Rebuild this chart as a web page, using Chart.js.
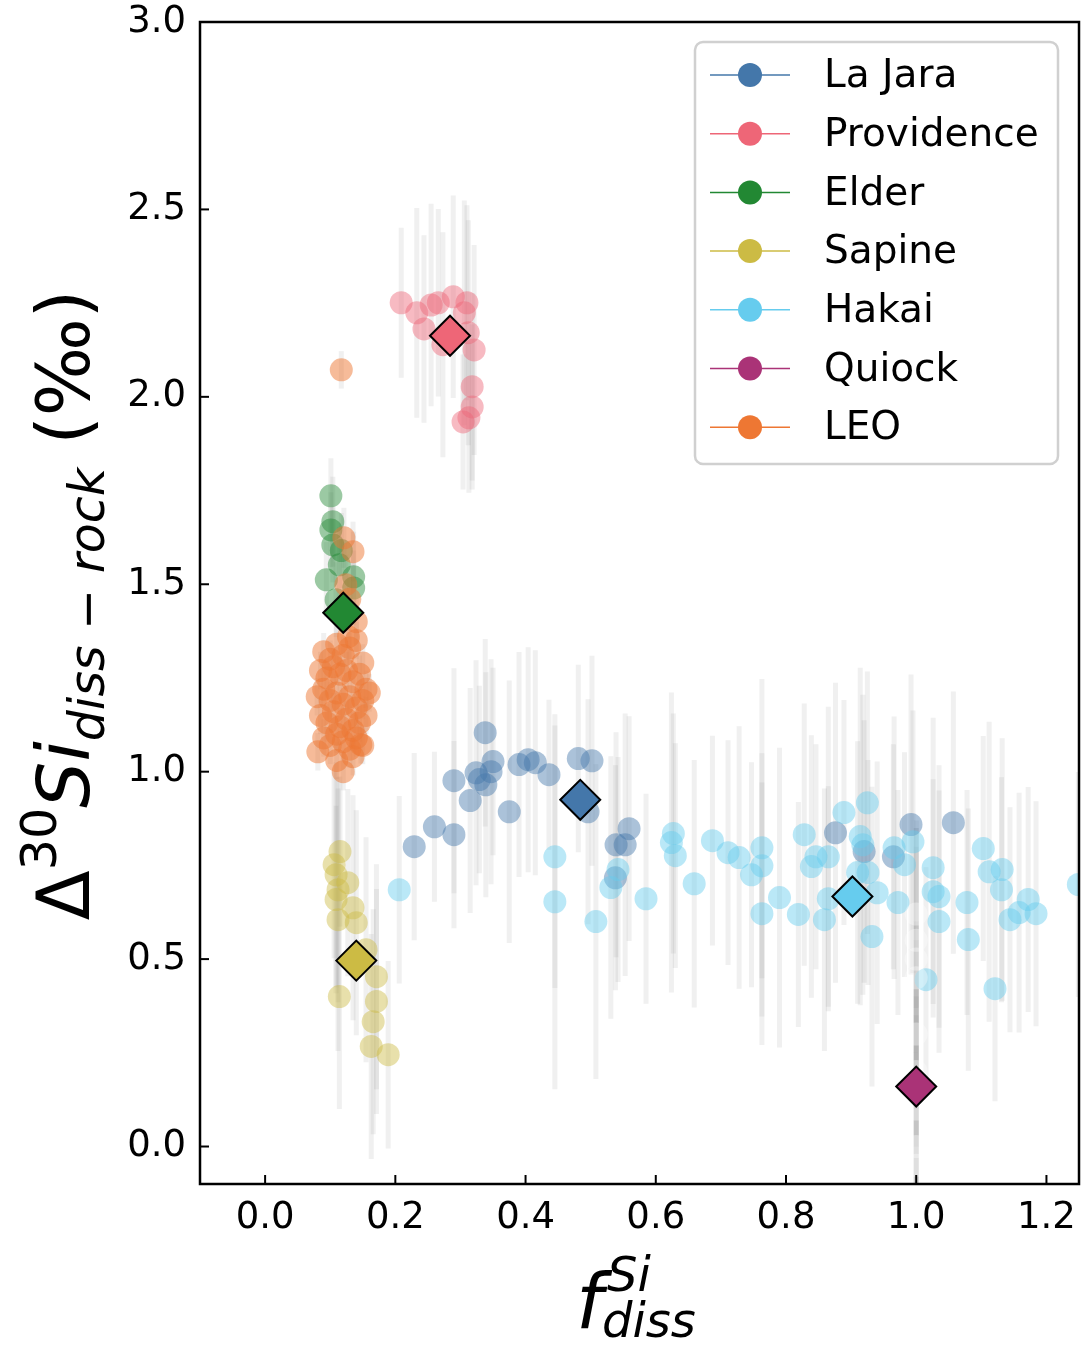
<!DOCTYPE html>
<html>
<head>
<meta charset="utf-8">
<script src="https://cdn.jsdelivr.net/npm/chart.js"></script>
<style>
  body { margin: 0; background: #fff; }
  canvas { display: block; }
</style>
</head>
<body>
<canvas id="chart" width="1081" height="1345"></canvas>
<script>
// each row: [f_diss, Δ30Si diss-rock, error]
const laJara = [
  [0.229,0.800,0.25],[0.260,0.853,0.20],[0.290,0.832,0.25],[0.290,0.976,0.30],[0.315,0.923,0.30],
  [0.324,0.997,0.30],[0.329,0.979,0.25],[0.339,0.965,0.30],[0.347,1.000,0.30],[0.350,1.027,0.25],
  [0.338,1.104,0.25],[0.375,0.893,0.35],[0.390,1.019,0.30],[0.404,1.032,0.30],[0.415,1.024,0.30],
  [0.436,0.992,0.20],[0.481,1.035,0.25],[0.502,1.029,0.28],[0.496,0.893,0.30],[0.539,0.805,0.30],
  [0.553,0.805,0.35],[0.559,0.848,0.30],[0.538,0.717,0.30],[0.876,0.837,0.40],[0.920,0.787,0.35],
  [0.965,0.773,0.30],[0.992,0.859,0.40],[1.057,0.864,0.35]
];
const providence = [
  [0.209,2.251,0.20],[0.233,2.224,0.28],[0.255,2.245,0.27],[0.266,2.251,0.25],[0.289,2.267,0.27],
  [0.310,2.251,0.26],[0.306,2.224,0.30],[0.244,2.181,0.25],[0.273,2.139,0.30],[0.312,2.171,0.30],
  [0.321,2.125,0.28],[0.318,2.027,0.25],[0.318,1.973,0.22],[0.304,1.933,0.18],[0.313,1.944,0.20]
];
const elder = [
  [0.101,1.736,0.10],[0.104,1.667,0.12],[0.101,1.645,0.10],[0.104,1.605,0.10],[0.094,1.512,0.10],
  [0.114,1.552,0.10],[0.136,1.520,0.12],[0.136,1.490,0.10],[0.109,1.459,0.10],[0.117,1.590,0.10]
];
const sapine = [
  [0.115,0.787,0.20],[0.106,0.752,0.25],[0.109,0.725,0.30],[0.127,0.704,0.25],[0.112,0.685,0.30],
  [0.109,0.659,0.25],[0.135,0.637,0.30],[0.112,0.605,0.35],[0.140,0.597,0.30],[0.155,0.525,0.30],
  [0.171,0.453,0.30],[0.114,0.400,0.30],[0.171,0.387,0.30],[0.166,0.333,0.30],[0.163,0.267,0.30],
  [0.189,0.245,0.25]
];
const hakai = [
  [0.206,0.685,0.25],[0.445,0.773,0.35],[0.445,0.653,0.50],[0.508,0.600,0.42],[0.542,0.739,0.30],
  [0.531,0.691,0.35],[0.585,0.661,0.28],[0.627,0.835,0.32],[0.624,0.811,0.40],[0.630,0.776,0.30],
  [0.659,0.701,0.33],[0.687,0.816,0.28],[0.711,0.784,0.30],[0.728,0.771,0.35],[0.747,0.725,0.30],
  [0.763,0.797,0.45],[0.763,0.749,0.30],[0.763,0.621,0.35],[0.790,0.664,0.40],[0.819,0.619,0.30],
  [0.828,0.832,0.35],[0.846,0.773,0.30],[0.839,0.747,0.35],[0.865,0.773,0.40],[0.889,0.891,0.30],
  [0.925,0.917,0.35],[0.914,0.827,0.45],[0.918,0.805,0.40],[0.910,0.731,0.35],[0.926,0.731,0.30],
  [0.940,0.677,0.35],[0.865,0.661,0.30],[0.859,0.605,0.35],[0.932,0.560,0.40],[0.966,0.797,0.35],
  [0.982,0.752,0.30],[0.995,0.813,0.35],[0.972,0.651,0.30],[1.035,0.667,0.35],[1.026,0.744,0.40],
  [1.026,0.680,0.30],[1.035,0.600,0.35],[1.078,0.651,0.30],[1.080,0.552,0.35],[1.103,0.795,0.30],
  [1.112,0.733,0.40],[1.132,0.739,0.35],[1.131,0.685,0.30],[1.144,0.605,0.30],[1.158,0.624,0.32],
  [1.172,0.659,0.30],[1.184,0.621,0.30],[1.121,0.421,0.30],[1.249,0.699,0.30],[1.015,0.445,0.30]
];
const quiock = [
  [1.0,0.62,0.25],[1.0,0.55,0.30],[1.0,0.50,0.35],[1.0,0.45,0.35],[1.0,0.30,0.30],[1.0,0.20,0.35],
  [1.0,0.10,0.30],[1.0,0.00,0.35],[1.0,-0.05,0.30]
];
const leo = [
  [0.117,2.072,0.05],[0.121,1.624,0.08],[0.135,1.587,0.08],[0.124,1.499,0.08],[0.130,1.460,0.06],
  [0.140,1.400,0.06],[0.128,1.360,0.06],
  [0.090,1.320,0.05],[0.100,1.300,0.05],[0.110,1.340,0.05],[0.120,1.310,0.05],[0.130,1.330,0.05],
  [0.140,1.350,0.05],[0.150,1.290,0.05],
  [0.085,1.270,0.05],[0.095,1.250,0.05],[0.105,1.280,0.05],[0.115,1.260,0.05],[0.125,1.270,0.05],
  [0.135,1.240,0.05],[0.145,1.260,0.05],[0.155,1.220,0.05],
  [0.080,1.200,0.05],[0.090,1.220,0.05],[0.100,1.190,0.05],[0.110,1.210,0.05],[0.120,1.180,0.05],
  [0.130,1.200,0.05],[0.140,1.170,0.05],[0.150,1.190,0.05],[0.160,1.210,0.05],
  [0.085,1.150,0.05],[0.095,1.130,0.05],[0.105,1.160,0.05],[0.115,1.120,0.05],[0.125,1.140,0.05],
  [0.135,1.110,0.05],[0.145,1.130,0.05],[0.155,1.150,0.05],
  [0.090,1.090,0.05],[0.100,1.070,0.05],[0.110,1.100,0.05],[0.120,1.080,0.05],[0.130,1.060,0.05],
  [0.140,1.090,0.05],[0.150,1.070,0.05],
  [0.081,1.053,0.05],[0.120,1.000,0.05],[0.147,1.072,0.05],[0.110,1.030,0.05],[0.135,1.040,0.05]
];

const seriesNames = ['La Jara', 'Providence', 'Elder', 'Sapine', 'Hakai', 'Quiock', 'LEO'];
const seriesData = [laJara, providence, elder, sapine, hakai, quiock, leo];
const seriesColors = ['#4477AA', '#EE6677', '#228833', '#CCBB44', '#66CCEE', '#AA3377', '#EE7733'];

// site means (diamonds), in series order La Jara .. Quiock
const meanX = [0.484, 0.284, 0.120, 0.140, 0.902, 1.000];
const meanY = [0.925, 2.163, 1.424, 0.496, 0.667, 0.160];

const xTicks = [0.0, 0.2, 0.4, 0.6, 0.8, 1.0, 1.2];
const yTicks = [0.0, 0.5, 1.0, 1.5, 2.0, 2.5, 3.0];

const FONT = "'DejaVu Sans', sans-serif";
Chart.defaults.font.family = FONT;

function rgba(hex, a) {
  const n = parseInt(hex.slice(1), 16);
  return `rgba(${n >> 16},${(n >> 8) & 255},${n & 255},${a})`;
}

const datasets = seriesData.map((rows, i) => ({
  label: seriesNames[i],
  data: rows.map(r => ({ x: r[0], y: r[1] })),
  errors: rows.map(r => r[2]),
  backgroundColor: seriesNames[i] === 'Quiock' ? 'rgba(255,255,255,0.35)'
    : rgba(seriesColors[i], seriesNames[i] === 'LEO' ? 0.5 : 0.45),
  borderWidth: 0,
  pointRadius: 11.5,
  pointHoverRadius: 11.5,
  clip: 0,
  order: 20 - i
}));

datasets.push({
  label: 'means',
  data: meanX.map((x, i) => ({ x, y: meanY[i] })),
  backgroundColor: meanX.map((_, i) => seriesColors[i]),
  borderColor: '#000',
  borderWidth: 2,
  pointStyle: 'rectRot',
  pointRadius: 20,
  pointHoverRadius: 20,
  clip: 0,
  order: 0
});

// stretch the plot box to the right edge like the original figure
const fixArea = {
  id: 'fixArea',
  afterLayout(chart) {
    const a = chart.chartArea, x = chart.scales.x;
    a.right = chart.width - 2;
    a.width = a.right - a.left;
    x.right = a.right;
    x.width = a.right - x.left;
    x.configure();
  }
};

const errorBars = {
  id: 'errorBars',
  beforeDatasetsDraw(chart) {
    const { ctx, chartArea: a, scales: { x, y } } = chart;
    ctx.save();
    ctx.beginPath();
    ctx.rect(a.left, a.top, a.right - a.left, a.bottom - a.top);
    ctx.clip();
    ctx.strokeStyle = 'rgba(120,120,120,0.11)';
    ctx.lineWidth = 5;
    chart.data.datasets.forEach(ds => {
      if (!ds.errors) return;
      ds.data.forEach((p, i) => {
        const px = x.getPixelForValue(p.x);
        ctx.beginPath();
        ctx.moveTo(px, y.getPixelForValue(p.y - ds.errors[i]));
        ctx.lineTo(px, y.getPixelForValue(p.y + ds.errors[i]));
        ctx.stroke();
      });
    });
    ctx.restore();
  }
};

// box round the plot with inward ticks on bottom and left
const frame = {
  id: 'frame',
  afterDatasetsDraw(chart) {
    const { ctx, chartArea: a, scales: { x, y } } = chart;
    ctx.save();
    ctx.strokeStyle = '#000';
    ctx.lineWidth = 2;
    xTicks.forEach(v => {
      const px = x.getPixelForValue(v);
      ctx.beginPath(); ctx.moveTo(px, a.bottom); ctx.lineTo(px, a.bottom - 9); ctx.stroke();
    });
    yTicks.forEach(v => {
      const py = y.getPixelForValue(v);
      ctx.beginPath(); ctx.moveTo(a.left, py); ctx.lineTo(a.left + 9, py); ctx.stroke();
    });
    ctx.lineWidth = 2.5;
    ctx.strokeRect(a.left, a.top, a.right - a.left, a.bottom - a.top);
    ctx.restore();
  }
};

const legendBox = {
  id: 'legendBox',
  afterDraw(chart) {
    const ctx = chart.ctx;
    ctx.save();
    ctx.beginPath();
    ctx.roundRect(695, 42, 363, 422, 8);
    ctx.fillStyle = 'rgba(255,255,255,0.8)';
    ctx.fill();
    ctx.strokeStyle = '#d0d0d0';
    ctx.lineWidth = 2.5;
    ctx.stroke();
    ctx.font = `39px ${FONT}`;
    ctx.textBaseline = 'middle';
    seriesNames.forEach((name, i) => {
      const yy = 75 + i * 58.7;
      ctx.strokeStyle = seriesColors[i];
      ctx.lineWidth = 1.5;
      ctx.beginPath(); ctx.moveTo(710, yy); ctx.lineTo(790, yy); ctx.stroke();
      ctx.fillStyle = seriesColors[i];
      ctx.beginPath(); ctx.arc(750, yy, 12, 0, Math.PI * 2); ctx.fill();
      ctx.fillStyle = '#000';
      ctx.fillText(name, 824, yy + 2);
    });
    ctx.restore();
  }
};

function drawRich(ctx, segs, x0, y0, rot) {
  ctx.save();
  ctx.translate(x0, y0);
  ctx.rotate(rot);
  ctx.fillStyle = '#000';
  ctx.textBaseline = 'alphabetic';
  const fontOf = s => `${s.italic ? 'italic ' : ''}${s.size}px ${FONT}`;
  let total = 0;
  segs.forEach(s => { ctx.font = fontOf(s); s.w = ctx.measureText(s.t).width; total += s.w; });
  let u = -total / 2;
  segs.forEach(s => {
    ctx.font = fontOf(s);
    ctx.fillText(s.t, u, s.dy || 0);
    u += s.w;
  });
  ctx.restore();
}

const axisTitles = {
  id: 'axisTitles',
  afterDraw(chart) {
    const ctx = chart.ctx;
    drawRich(ctx, [
      { t: 'Δ', size: 73 },
      { t: '30', size: 49, dy: -33 },
      { t: 'Si', size: 73, italic: true },
      { t: 'diss − rock', size: 49, italic: true, dy: 15 },
      { t: ' (‰)', size: 73 }
    ], 89, 605, -Math.PI / 2);
    // f^Si_diss
    ctx.save();
    ctx.fillStyle = '#000';
    ctx.font = `italic 76px ${FONT}`;
    ctx.fillText('f', 576, 1328);
    ctx.font = `italic 48px ${FONT}`;
    ctx.fillText('Si', 607, 1291);
    ctx.fillText('diss', 602, 1337);
    ctx.restore();
  }
};

const noOverhang = s => { s.paddingLeft = 0; s.paddingRight = 0; s.paddingTop = 0; s.paddingBottom = 0; };

new Chart(document.getElementById('chart'), {
  type: 'scatter',
  data: { datasets },
  plugins: [fixArea, errorBars, frame, legendBox, axisTitles],
  options: {
    responsive: false,
    animation: false,
    events: [],
    layout: { padding: { top: 22, right: 2, left: 0, bottom: 0 } },
    plugins: { legend: { display: false }, tooltip: { enabled: false } },
    scales: {
      x: {
        type: 'linear', min: -0.1, max: 1.25,
        afterBuildTicks: s => { s.ticks = xTicks.map(v => ({ value: v })); },
        afterFit: s => { s.height = 161; noOverhang(s); },
        grid: { display: false, drawTicks: false },
        border: { display: false },
        ticks: { color: '#000', font: { size: 37 }, padding: 12, maxRotation: 0,
                 callback: v => v.toFixed(1) }
      },
      y: {
        type: 'linear', min: -0.1, max: 3.0,
        afterBuildTicks: s => { s.ticks = yTicks.map(v => ({ value: v })); },
        afterFit: s => { s.width = 200; noOverhang(s); },
        grid: { display: false, drawTicks: false },
        border: { display: false },
        ticks: { color: '#000', font: { size: 37 }, padding: 14,
                 callback: v => v.toFixed(1) }
      }
    }
  }
});
</script>
</body>
</html>
